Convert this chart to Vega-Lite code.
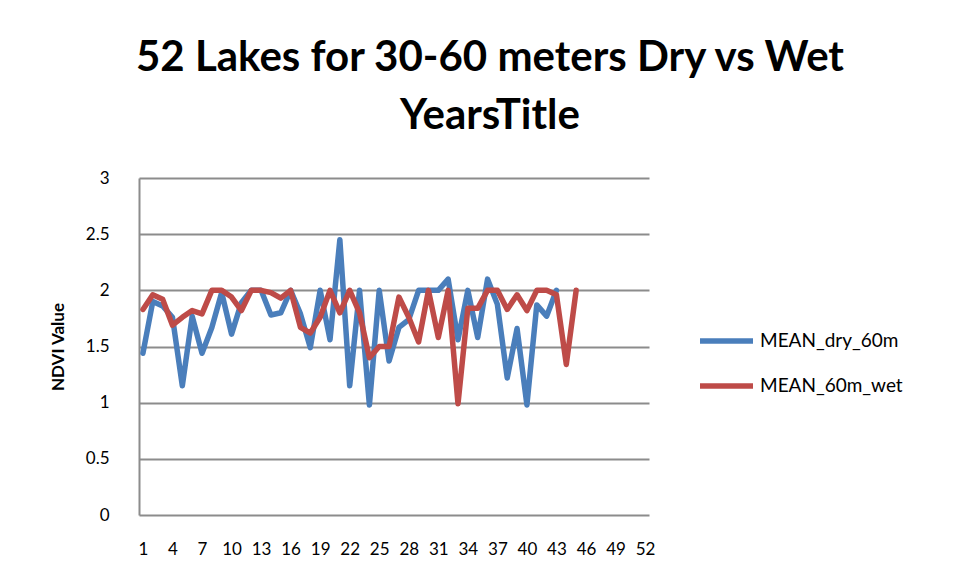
{
  "$schema": "https://vega.github.io/schema/vega-lite/v6.json",
  "width": 510,
  "height": 337,
  "autosize": "none",
  "padding": {"left": 139, "top": 178, "right": 308, "bottom": 64},
  "background": "white",
  "title": {
    "text": ["52 Lakes for 30-60 meters Dry vs Wet", "YearsTitle"],
    "anchor": "middle",
    "dx": 96,
    "offset": 31,
    "font": "Lato",
    "fontSize": 42,
    "fontWeight": "bold",
    "lineHeight": 58,
    "color": "black"
  },
  "data": {
    "values": [
      {"lake": 1, "series": "MEAN_dry_60m", "ndvi": 1.44},
      {"lake": 2, "series": "MEAN_dry_60m", "ndvi": 1.90},
      {"lake": 3, "series": "MEAN_dry_60m", "ndvi": 1.86},
      {"lake": 4, "series": "MEAN_dry_60m", "ndvi": 1.76},
      {"lake": 5, "series": "MEAN_dry_60m", "ndvi": 1.15},
      {"lake": 6, "series": "MEAN_dry_60m", "ndvi": 1.77},
      {"lake": 7, "series": "MEAN_dry_60m", "ndvi": 1.44},
      {"lake": 8, "series": "MEAN_dry_60m", "ndvi": 1.67},
      {"lake": 9, "series": "MEAN_dry_60m", "ndvi": 1.98},
      {"lake": 10, "series": "MEAN_dry_60m", "ndvi": 1.61},
      {"lake": 11, "series": "MEAN_dry_60m", "ndvi": 1.89},
      {"lake": 12, "series": "MEAN_dry_60m", "ndvi": 2.0},
      {"lake": 13, "series": "MEAN_dry_60m", "ndvi": 2.0},
      {"lake": 14, "series": "MEAN_dry_60m", "ndvi": 1.78},
      {"lake": 15, "series": "MEAN_dry_60m", "ndvi": 1.80},
      {"lake": 16, "series": "MEAN_dry_60m", "ndvi": 2.0},
      {"lake": 17, "series": "MEAN_dry_60m", "ndvi": 1.79},
      {"lake": 18, "series": "MEAN_dry_60m", "ndvi": 1.49},
      {"lake": 19, "series": "MEAN_dry_60m", "ndvi": 2.0},
      {"lake": 20, "series": "MEAN_dry_60m", "ndvi": 1.56},
      {"lake": 21, "series": "MEAN_dry_60m", "ndvi": 2.45},
      {"lake": 22, "series": "MEAN_dry_60m", "ndvi": 1.15},
      {"lake": 23, "series": "MEAN_dry_60m", "ndvi": 2.0},
      {"lake": 24, "series": "MEAN_dry_60m", "ndvi": 0.98},
      {"lake": 25, "series": "MEAN_dry_60m", "ndvi": 2.0},
      {"lake": 26, "series": "MEAN_dry_60m", "ndvi": 1.37},
      {"lake": 27, "series": "MEAN_dry_60m", "ndvi": 1.67},
      {"lake": 28, "series": "MEAN_dry_60m", "ndvi": 1.74},
      {"lake": 29, "series": "MEAN_dry_60m", "ndvi": 2.0},
      {"lake": 30, "series": "MEAN_dry_60m", "ndvi": 2.0},
      {"lake": 31, "series": "MEAN_dry_60m", "ndvi": 2.0},
      {"lake": 32, "series": "MEAN_dry_60m", "ndvi": 2.1},
      {"lake": 33, "series": "MEAN_dry_60m", "ndvi": 1.56},
      {"lake": 34, "series": "MEAN_dry_60m", "ndvi": 2.0},
      {"lake": 35, "series": "MEAN_dry_60m", "ndvi": 1.58},
      {"lake": 36, "series": "MEAN_dry_60m", "ndvi": 2.1},
      {"lake": 37, "series": "MEAN_dry_60m", "ndvi": 1.875},
      {"lake": 38, "series": "MEAN_dry_60m", "ndvi": 1.22},
      {"lake": 39, "series": "MEAN_dry_60m", "ndvi": 1.66},
      {"lake": 40, "series": "MEAN_dry_60m", "ndvi": 0.98},
      {"lake": 41, "series": "MEAN_dry_60m", "ndvi": 1.87},
      {"lake": 42, "series": "MEAN_dry_60m", "ndvi": 1.77},
      {"lake": 43, "series": "MEAN_dry_60m", "ndvi": 2.0},
      {"lake": 1, "series": "MEAN_60m_wet", "ndvi": 1.83},
      {"lake": 2, "series": "MEAN_60m_wet", "ndvi": 1.96},
      {"lake": 3, "series": "MEAN_60m_wet", "ndvi": 1.92},
      {"lake": 4, "series": "MEAN_60m_wet", "ndvi": 1.69},
      {"lake": 5, "series": "MEAN_60m_wet", "ndvi": 1.76},
      {"lake": 6, "series": "MEAN_60m_wet", "ndvi": 1.82},
      {"lake": 7, "series": "MEAN_60m_wet", "ndvi": 1.79},
      {"lake": 8, "series": "MEAN_60m_wet", "ndvi": 2.0},
      {"lake": 9, "series": "MEAN_60m_wet", "ndvi": 2.0},
      {"lake": 10, "series": "MEAN_60m_wet", "ndvi": 1.94},
      {"lake": 11, "series": "MEAN_60m_wet", "ndvi": 1.82},
      {"lake": 12, "series": "MEAN_60m_wet", "ndvi": 2.0},
      {"lake": 13, "series": "MEAN_60m_wet", "ndvi": 2.0},
      {"lake": 14, "series": "MEAN_60m_wet", "ndvi": 1.98},
      {"lake": 15, "series": "MEAN_60m_wet", "ndvi": 1.93},
      {"lake": 16, "series": "MEAN_60m_wet", "ndvi": 2.0},
      {"lake": 17, "series": "MEAN_60m_wet", "ndvi": 1.67},
      {"lake": 18, "series": "MEAN_60m_wet", "ndvi": 1.62},
      {"lake": 19, "series": "MEAN_60m_wet", "ndvi": 1.76},
      {"lake": 20, "series": "MEAN_60m_wet", "ndvi": 2.0},
      {"lake": 21, "series": "MEAN_60m_wet", "ndvi": 1.80},
      {"lake": 22, "series": "MEAN_60m_wet", "ndvi": 2.0},
      {"lake": 23, "series": "MEAN_60m_wet", "ndvi": 1.80},
      {"lake": 24, "series": "MEAN_60m_wet", "ndvi": 1.40},
      {"lake": 25, "series": "MEAN_60m_wet", "ndvi": 1.50},
      {"lake": 26, "series": "MEAN_60m_wet", "ndvi": 1.50},
      {"lake": 27, "series": "MEAN_60m_wet", "ndvi": 1.94},
      {"lake": 28, "series": "MEAN_60m_wet", "ndvi": 1.76},
      {"lake": 29, "series": "MEAN_60m_wet", "ndvi": 1.54},
      {"lake": 30, "series": "MEAN_60m_wet", "ndvi": 2.0},
      {"lake": 31, "series": "MEAN_60m_wet", "ndvi": 1.58},
      {"lake": 32, "series": "MEAN_60m_wet", "ndvi": 2.0},
      {"lake": 33, "series": "MEAN_60m_wet", "ndvi": 0.99},
      {"lake": 34, "series": "MEAN_60m_wet", "ndvi": 1.84},
      {"lake": 35, "series": "MEAN_60m_wet", "ndvi": 1.84},
      {"lake": 36, "series": "MEAN_60m_wet", "ndvi": 2.0},
      {"lake": 37, "series": "MEAN_60m_wet", "ndvi": 2.0},
      {"lake": 38, "series": "MEAN_60m_wet", "ndvi": 1.83},
      {"lake": 39, "series": "MEAN_60m_wet", "ndvi": 1.96},
      {"lake": 40, "series": "MEAN_60m_wet", "ndvi": 1.82},
      {"lake": 41, "series": "MEAN_60m_wet", "ndvi": 2.0},
      {"lake": 42, "series": "MEAN_60m_wet", "ndvi": 2.0},
      {"lake": 43, "series": "MEAN_60m_wet", "ndvi": 1.96},
      {"lake": 44, "series": "MEAN_60m_wet", "ndvi": 1.34},
      {"lake": 45, "series": "MEAN_60m_wet", "ndvi": 2.0}
    ]
  },
  "mark": {"type": "line", "strokeWidth": 5.5, "strokeCap": "round", "strokeJoin": "round"},
  "encoding": {
    "x": {
      "field": "lake",
      "type": "ordinal",
      "sort": "ascending",
      "scale": {
        "type": "point",
        "padding": 0.4,
        "domain": [1,2,3,4,5,6,7,8,9,10,11,12,13,14,15,16,17,18,19,20,21,22,23,24,25,26,27,28,29,30,31,32,33,34,35,36,37,38,39,40,41,42,43,44,45,46,47,48,49,50,51,52]
      },
      "axis": {
        "title": null,
        "values": [1,4,7,10,13,16,19,22,25,28,31,34,37,40,43,46,49,52],
        "labelAngle": 0,
        "labelFontSize": 17,
        "labelFont": "Lato",
        "labelColor": "black",
        "labelPadding": 26,
        "ticks": false,
        "domain": false,
        "grid": false
      }
    },
    "y": {
      "field": "ndvi",
      "type": "quantitative",
      "scale": {"domain": [0, 3], "nice": false, "zero": true},
      "axis": {
        "title": "NDVI Value",
        "titleFont": "Lato",
        "titleFontSize": 17,
        "titleFontWeight": "bold",
        "titleColor": "black",
        "titlePadding": 18,
        "values": [0, 0.5, 1, 1.5, 2, 2.5, 3],
        "labelExpr": "'' + datum.value",
        "labelFontSize": 17,
        "labelFont": "Lato",
        "labelColor": "black",
        "labelPadding": 30,
        "ticks": false,
        "domain": true,
        "domainColor": "#8c8c8c",
        "domainWidth": 2,
        "grid": true,
        "gridColor": "#8c8c8c",
        "gridWidth": 2
      }
    },
    "color": {
      "field": "series",
      "type": "nominal",
      "sort": ["MEAN_dry_60m", "MEAN_60m_wet"],
      "scale": {"domain": ["MEAN_dry_60m", "MEAN_60m_wet"], "range": ["#4A7EBB", "#BE4B48"]},
      "legend": {
        "title": null,
        "orient": "none",
        "legendX": 558,
        "legendY": 153,
        "symbolType": "stroke",
        "symbolSize": 2809,
        "symbolStrokeWidth": 5.5,
        "clipHeight": 20,
        "rowPadding": 25,
        "labelFont": "Lato",
        "labelFontSize": 19,
        "labelColor": "black",
        "labelOffset": 4
      }
    }
  },
  "config": {"view": {"stroke": null}}
}
